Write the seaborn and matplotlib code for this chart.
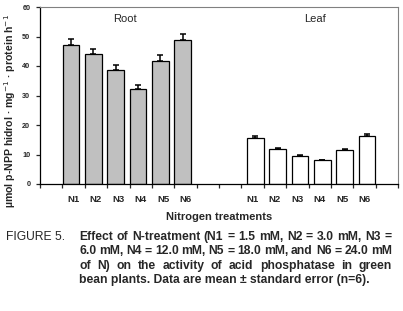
import numpy as np
import pandas as pd
import matplotlib
matplotlib.use("Agg")
import matplotlib.pyplot as plt
import seaborn as sns

# values
treatments = ["N1", "N2", "N3", "N4", "N5", "N6"]
root_mean = [47.2, 44.2, 38.7, 32.2, 41.7, 48.9]
root_se = [1.9, 1.6, 1.6, 1.4, 2.0, 2.0]
leaf_mean = [15.6, 11.9, 9.5, 8.1, 11.6, 16.3]
leaf_se = [0.6, 0.3, 0.35, 0.1, 0.3, 0.7]

caption_lines = [
    "Effect of N-treatment (N1 = 1.5 mM, N2 = 3.0 mM, N3 =",
    "6.0 mM, N4 = 12.0 mM, N5 = 18.0 mM, and N6 = 24.0 mM",
    "of N) on the activity of acid phosphatase in green",
    "bean plants. Data are mean \u00b1 standard error (n=6).",
]

sns.set_style("ticks")
plt.rcParams["font.family"] = ["Liberation Sans", "DejaVu Sans"]

# 16 slots: empty, root N1-N6, 2 empty, leaf N1-N6, empty
root_slot = np.arange(1, 7)
leaf_slot = np.arange(9, 15)
shift = 0.12

df = pd.DataFrame({
    "pos": np.concatenate([root_slot - shift, leaf_slot + shift]),
    "mean": root_mean + leaf_mean,
    "se": root_se + leaf_se,
    "part": ["Root"] * 6 + ["Leaf"] * 6,
})

fig = plt.figure(figsize=(4.03, 3.11), dpi=100)
W, H = 403, 311
ax = fig.add_axes([40 / W, (H - 184) / H, 358 / W, 177 / H])

sns.barplot(data=df, x="pos", y="mean", hue="part", native_scale=True,
            palette={"Root": "#c0c0c0", "Leaf": "white"}, width=0.74,
            edgecolor="black", linewidth=0.9, errorbar=None, legend=False,
            dodge=False, ax=ax)
ax.errorbar(df["pos"], df["mean"], yerr=[np.zeros(len(df)), df["se"]],
            fmt="none", ecolor="black", elinewidth=1.1, capsize=2.5,
            capthick=1.1)

ax.set_xlim(-0.5, 15.5)
ax.set_ylim(0, 60)
ax.set_yticks(range(0, 61, 10))
ax.set_xticks(np.concatenate([root_slot, leaf_slot]))
ax.set_xticklabels(treatments * 2, fontweight="bold", fontsize=6.8)
ax.set_xticks(np.arange(-0.5, 16, 1), minor=True)
ax.tick_params(axis="x", which="major", length=0, pad=8)
ax.tick_params(axis="x", which="minor", length=3, width=0.9)
ax.tick_params(axis="y", length=3, width=0.9, labelsize=5.2, pad=4)
for lab in ax.get_yticklabels():
    lab.set_fontweight("bold")

for s in ["left", "bottom"]:
    ax.spines[s].set_color("black")
    ax.spines[s].set_linewidth(0.9)
for s in ["top", "right"]:
    ax.spines[s].set_visible(True)
    ax.spines[s].set_color("#808080")
    ax.spines[s].set_linewidth(0.8)

ax.set_xlabel("Nitrogen treatments", fontweight="bold", fontsize=8, labelpad=6)
ax.set_ylabel("\u00b5mol p-NPP hidrol \u00b7 mg$^{-1}$ \u00b7 protein h$^{-1}$",
              fontweight="bold", fontsize=7.6)
ax.yaxis.set_label_coords(-22 / 358, 0.41)

ax.text(3.3, 56.0, "Root", ha="center", va="center", fontsize=8)
ax.text(11.8, 56.0, "Leaf", ha="center", va="center", fontsize=8)

# caption, justified like the printed page
fs = 8.7
fig.text(6 / W, 1 - 240 / H, "FIGURE 5.", fontsize=fs, va="baseline")
fig.canvas.draw()
r = fig.canvas.get_renderer()
x0, x1 = 79, 392
for i, line in enumerate(caption_lines):
    yb = 1 - (240 + 14.5 * i) / H
    if i == len(caption_lines) - 1:
        fig.text(x0 / W, yb, line, fontsize=fs, fontweight="bold", va="baseline")
        continue
    words = line.split(" ")
    ts = [fig.text(0, yb, w, fontsize=fs, fontweight="bold", va="baseline") for w in words]
    widths = [t.get_window_extent(r).width for t in ts]
    gap = (x1 - x0 - sum(widths)) / (len(words) - 1)
    x = x0
    for t, w in zip(ts, widths):
        t.set_x(x / W)
        x += w + gap

fig.savefig("out.png", dpi=100)
